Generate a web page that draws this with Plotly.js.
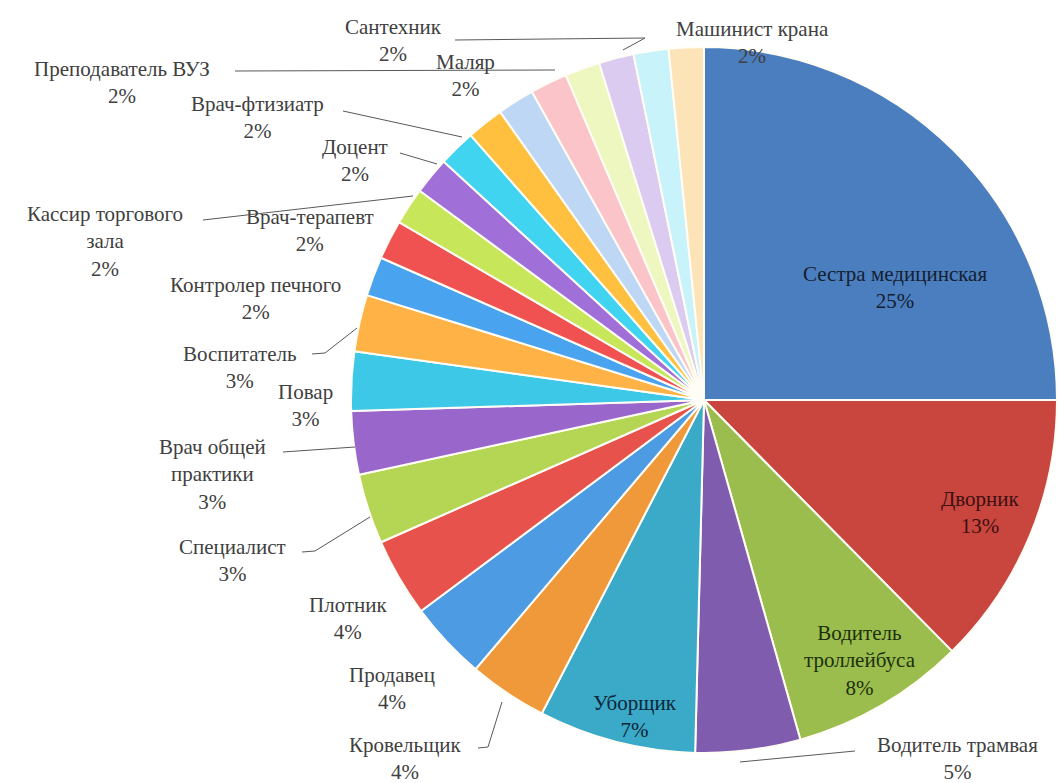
<!DOCTYPE html>
<html>
<head>
<meta charset="utf-8">
<script src="https://cdn.plot.ly/plotly-3.0.1.min.js"></script>
<style>html,body{margin:0;padding:0;background:#fff;}#chart{width:1058px;height:783px;}</style>
</head>
<body>
<div id="chart"></div>
<script>
// ---- data ----
const categories = [
  "Сестра медицинская", "Дворник", "Водитель троллейбуса", "Водитель трамвая",
  "Уборщик", "Кровельщик", "Продавец", "Плотник", "Специалист",
  "Врач общей практики", "Повар", "Воспитатель", "Контролер печного",
  "Врач-терапевт", "Кассир торгового зала", "Доцент", "Врач-фтизиатр",
  "Преподаватель ВУЗ", "Маляр", "Прочее 1", "Прочее 2", "Сантехник", "Прочее 3", "Машинист крана"
];
const shares = [
  25.0, 12.6, 8.0, 4.8,
  7.2, 3.6, 3.6, 3.6, 3.2,
  2.9, 2.7, 2.6, 1.8,
  1.8, 1.7, 1.7, 1.7,
  1.7, 1.7, 1.7, 1.6, 1.6, 1.6, 1.6
];
// label text as shown (line breaks as in the picture); empty = label not shown
const displayLabels = [
  "Сестра медицинская", "Дворник", "Водитель<br>троллейбуса", "Водитель трамвая",
  "Уборщик", "Кровельщик", "Продавец", "Плотник", "Специалист",
  "Врач общей<br>практики", "Повар", "Воспитатель", "Контролер печного",
  "Врач-терапевт", "Кассир торгового<br>зала", "Доцент", "Врач-фтизиатр",
  "Преподаватель ВУЗ", "Маляр", "", "", "Сантехник", "", "Машинист крана"
];
const sliceColors = [
  "#4a7ebf", "#c9463f", "#9bbd4e", "#7f5cad",
  "#3ba9c8", "#f0993a", "#4d9be3", "#e8524c", "#b5d654",
  "#9966cc", "#3cc8e6", "#ffb347", "#4aa3ef",
  "#f05252", "#c8e65a", "#a070d8", "#40d4f0",
  "#ffc040", "#bdd7f5", "#fbc4c8", "#eef7c0", "#dccbf0", "#c8f3fb", "#fde3b8"
];

// ---- layout helpers (pixel -> paper) ----
const W = 1058, H = 783;
const px = x => x / W;
const py = y => 1 - y / H;
const SERIF = "'Liberation Serif', 'DejaVu Serif', 'Times New Roman', serif";

// label block centres (pixels), by slice index
const labelPos = {
  0: [895, 287], 1: [980, 512], 2: [860, 660], 3: [957, 758], 4: [635, 716],
  5: [405, 758], 6: [392, 688], 7: [348, 618], 8: [232, 560], 9: [212, 474],
  10: [305, 405], 11: [240, 367], 12: [255, 298], 13: [310, 230], 14: [105, 241],
  15: [355, 160], 16: [257, 118], 17: [122, 82], 18: [465, 75], 21: [393, 40], 23: [752, 42]
};
const insideColors = {0: "#15202e", 1: "#3d1010", 2: "#1c300c", 4: "#0c2638"};

const total = shares.reduce((a, b) => a + b, 0);
const annotations = [];
displayLabels.forEach((lab, i) => {
  if (!lab || !labelPos[i]) return;
  const pct = Math.round(shares[i] / total * 100) + "%";
  annotations.push({
    xref: "paper", yref: "paper", x: px(labelPos[i][0]), y: py(labelPos[i][1]),
    xanchor: "center", yanchor: "middle", showarrow: false, align: "center",
    text: lab + "<br>" + pct,
    font: {family: SERIF, size: 21, color: insideColors[i] || "#404040"}
  });
});

// leader lines (pixel polylines)
const leaders = [
  [[455, 40], [645, 38], [623, 50]],
  [[235, 71], [555, 70]],
  [[343, 111], [462, 137]],
  [[400, 153], [437, 164]],
  [[203, 220], [413, 196]],
  [[312, 354], [325, 353], [357, 328]],
  [[283, 452], [355, 447]],
  [[302, 552], [315, 551], [370, 517]],
  [[478, 748], [488, 747], [502, 702]],
  [[855, 751], [740, 762]]
];
const shapes = leaders.map(pts => ({
  type: "path", xref: "paper", yref: "paper",
  path: pts.map((p, k) => (k ? "L" : "M") + px(p[0]) + "," + py(p[1])).join(" "),
  line: {color: "#595959", width: 1}
}));

const trace = {
  type: "pie",
  labels: categories,
  values: shares,
  sort: false,
  direction: "clockwise",
  rotation: 0,
  textinfo: "none",
  textposition: "none",
  marker: {colors: sliceColors, line: {color: "#fffdf5", width: 2}},
  domain: {x: [px(350), 1], y: [py(753), py(47)]},
  hoverinfo: "label+percent"
};

Plotly.newPlot("chart", [trace], {
  width: W, height: H,
  margin: {l: 0, r: 0, t: 0, b: 0},
  showlegend: false,
  paper_bgcolor: "#ffffff",
  font: {family: SERIF},
  annotations: annotations,
  shapes: shapes
}, {displayModeBar: false, staticPlot: true});
</script>
</body>
</html>
